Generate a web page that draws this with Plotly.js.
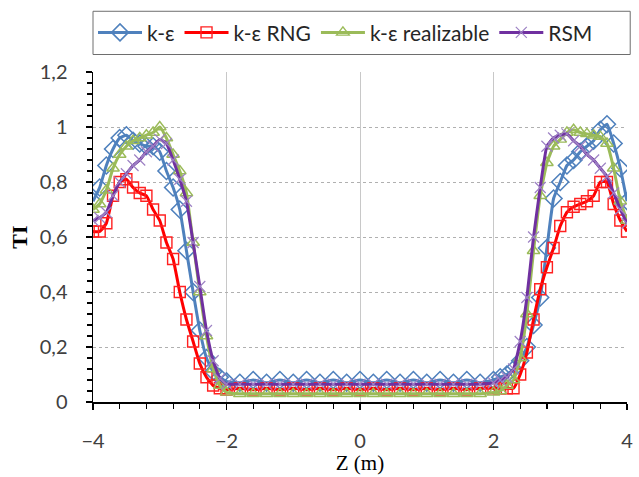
<!DOCTYPE html>
<html><head><meta charset="utf-8">
<script src="https://cdn.plot.ly/plotly-3.0.1.min.js"></script>
<style>html,body{margin:0;padding:0;background:#fff}#chart{width:639px;height:477px}</style>
</head><body><div id="chart"></div>
<script>
const zPos = [-4.0,-3.9,-3.8,-3.7,-3.6,-3.5,-3.4,-3.3,-3.2,-3.1,-3.0,-2.9,-2.8,-2.7,-2.6,-2.5,-2.4,-2.3,-2.2,-2.1,-2.0,
  -1.8,-1.6,-1.4,-1.2,-1.0,-0.8,-0.6,-0.4,-0.2,0.0,0.2,0.4,0.6,0.8,1.0,1.2,1.4,1.6,1.8,
  2.0,2.1,2.2,2.3,2.4,2.5,2.6,2.7,2.8,2.9,3.0,3.1,3.2,3.3,3.4,3.5,3.6,3.7,3.8,3.9,4.0];

const tiKe = [0.73,0.78,0.86,0.92,0.96,0.97,0.95,0.94,0.93,0.93,0.91,0.84,0.78,0.70,0.55,0.40,0.26,0.16,0.11,0.09,0.075,
  0.07,0.08,0.07,0.08,0.07,0.08,0.07,0.08,0.07,0.08,0.07,0.08,0.07,0.08,0.07,0.08,0.07,0.08,0.07,
  0.08,0.09,0.10,0.12,0.15,0.20,0.28,0.38,0.56,0.74,0.80,0.86,0.88,0.91,0.93,0.95,0.99,1.01,0.94,0.85,0.73];

const tiRng = [0.62,0.62,0.65,0.75,0.80,0.81,0.78,0.76,0.75,0.70,0.66,0.58,0.52,0.40,0.30,0.22,0.14,0.09,0.06,0.05,0.045,
  0.05,0.045,0.05,0.045,0.05,0.045,0.05,0.045,0.05,0.045,0.05,0.045,0.05,0.045,0.05,0.045,0.05,0.045,0.05,
  0.05,0.05,0.05,0.05,0.10,0.18,0.30,0.41,0.49,0.56,0.64,0.69,0.71,0.72,0.73,0.75,0.80,0.80,0.72,0.66,0.62];

const tiReal = [0.70,0.72,0.77,0.85,0.90,0.93,0.95,0.96,0.97,0.98,1.00,0.96,0.90,0.84,0.76,0.58,0.40,0.24,0.12,0.06,0.035,
  0.03,0.03,0.03,0.03,0.03,0.03,0.03,0.03,0.03,0.03,0.03,0.03,0.03,0.03,0.03,0.03,0.03,0.03,0.03,
  0.035,0.04,0.06,0.08,0.16,0.32,0.55,0.75,0.87,0.93,0.955,0.98,0.99,0.98,0.975,0.97,0.965,0.94,0.85,0.73,0.66];

const tiRsm = [0.66,0.67,0.69,0.75,0.80,0.83,0.86,0.88,0.91,0.93,0.955,0.94,0.88,0.81,0.73,0.58,0.42,0.26,0.15,0.085,0.065,
  0.065,0.065,0.065,0.065,0.065,0.065,0.065,0.065,0.065,0.065,0.065,0.065,0.065,0.065,0.065,0.065,0.065,0.065,0.065,
  0.07,0.08,0.09,0.12,0.22,0.38,0.60,0.78,0.93,0.96,0.97,0.975,0.95,0.93,0.90,0.88,0.85,0.82,0.76,0.70,0.65];

const seriesNames = ['k-ε','k-ε RNG','k-ε realizable','RSM'];

const lineOpts = {shape:'spline', smoothing:0.4, width:3};
const traces = [
  {x:zPos, y:tiKe, name:seriesNames[0], mode:'lines+markers',
   line:Object.assign({color:'#4F81BD'}, lineOpts),
   marker:{symbol:'diamond-open', size:13, color:'#4F81BD', line:{width:1.6, color:'#4F81BD'}}},
  {x:zPos, y:tiRng, name:seriesNames[1], mode:'lines+markers',
   line:Object.assign({color:'#FF0000'}, lineOpts),
   marker:{symbol:'square-open', size:11, color:'#FF2020', line:{width:1.4, color:'#FF2020'}}},
  {x:zPos, y:tiReal, name:seriesNames[2], mode:'lines+markers',
   line:Object.assign({color:'#9BBB59'}, lineOpts),
   marker:{symbol:'triangle-up-open', size:11, color:'#9BBB59', line:{width:1.4, color:'#9BBB59'}}},
  {x:zPos, y:tiRsm, name:seriesNames[3], mode:'lines+markers',
   line:Object.assign({color:'#7030A0'}, lineOpts),
   marker:{symbol:'x-thin-open', size:11, color:'#9D82C4', line:{width:1.2, color:'#9D82C4'}}}
];

const tickFont = {family:'Lato, "Liberation Sans", sans-serif', size:20, color:'#404040'};
const layout = {
  width:639, height:477,
  margin:{l:93, r:12, t:65, b:75},
  paper_bgcolor:'#fff', plot_bgcolor:'#fff',
  separators:',.',
  showlegend:true,
  legend:{orientation:'h', x:0.0, xanchor:'left', y:1.119, yanchor:'middle',
    font:{family:'Lato, "Liberation Sans", sans-serif', size:21, color:'#262626'},
    bgcolor:'rgba(0,0,0,0)', borderwidth:0, itemwidth:44, traceorder:'normal'},
  shapes:[{type:'rect', xref:'paper', yref:'paper', x0:0, x1:1.006, y0:1.053, y1:1.184,
    line:{color:'#6e6e6e', width:1}, fillcolor:'rgba(0,0,0,0)', layer:'below'}],
  xaxis:{range:[-4,4], dtick:2, tick0:-4, showgrid:true, gridcolor:'#c8c8c8', gridwidth:1,
    zeroline:false, showline:true, linecolor:'#000', linewidth:1.5,
    ticks:'outside', ticklen:6, tickcolor:'#000', tickwidth:1.2, ticklabelstandoff:14,
    minor:{dtick:0.4, ticks:'outside', ticklen:5, tickcolor:'#000', showgrid:false},
    tickfont:tickFont,
    title:{text:'Z (m)', font:{family:'"Liberation Serif", "Times New Roman", serif', size:21, color:'#000'}, standoff:0}},
  yaxis:{range:[0,1.2], dtick:0.2, tick0:0, showgrid:true, gridcolor:'#b0b0b0', griddash:'dot', gridwidth:1,
    zeroline:false, showline:true, linecolor:'#000', linewidth:1.5,
    ticks:'outside', ticklen:6, tickcolor:'#000', tickwidth:1.2, ticklabelstandoff:14,
    minor:{dtick:0.04, ticks:'outside', ticklen:5, tickcolor:'#000', showgrid:false},
    tickfont:tickFont,
    title:{text:'<b>TI</b>', font:{family:'"Liberation Serif", "Times New Roman", serif', size:22, color:'#000'}, standoff:6}}
};

Plotly.newPlot('chart', traces, layout, {staticPlot:true, displayModeBar:false});
</script>
</body></html>
